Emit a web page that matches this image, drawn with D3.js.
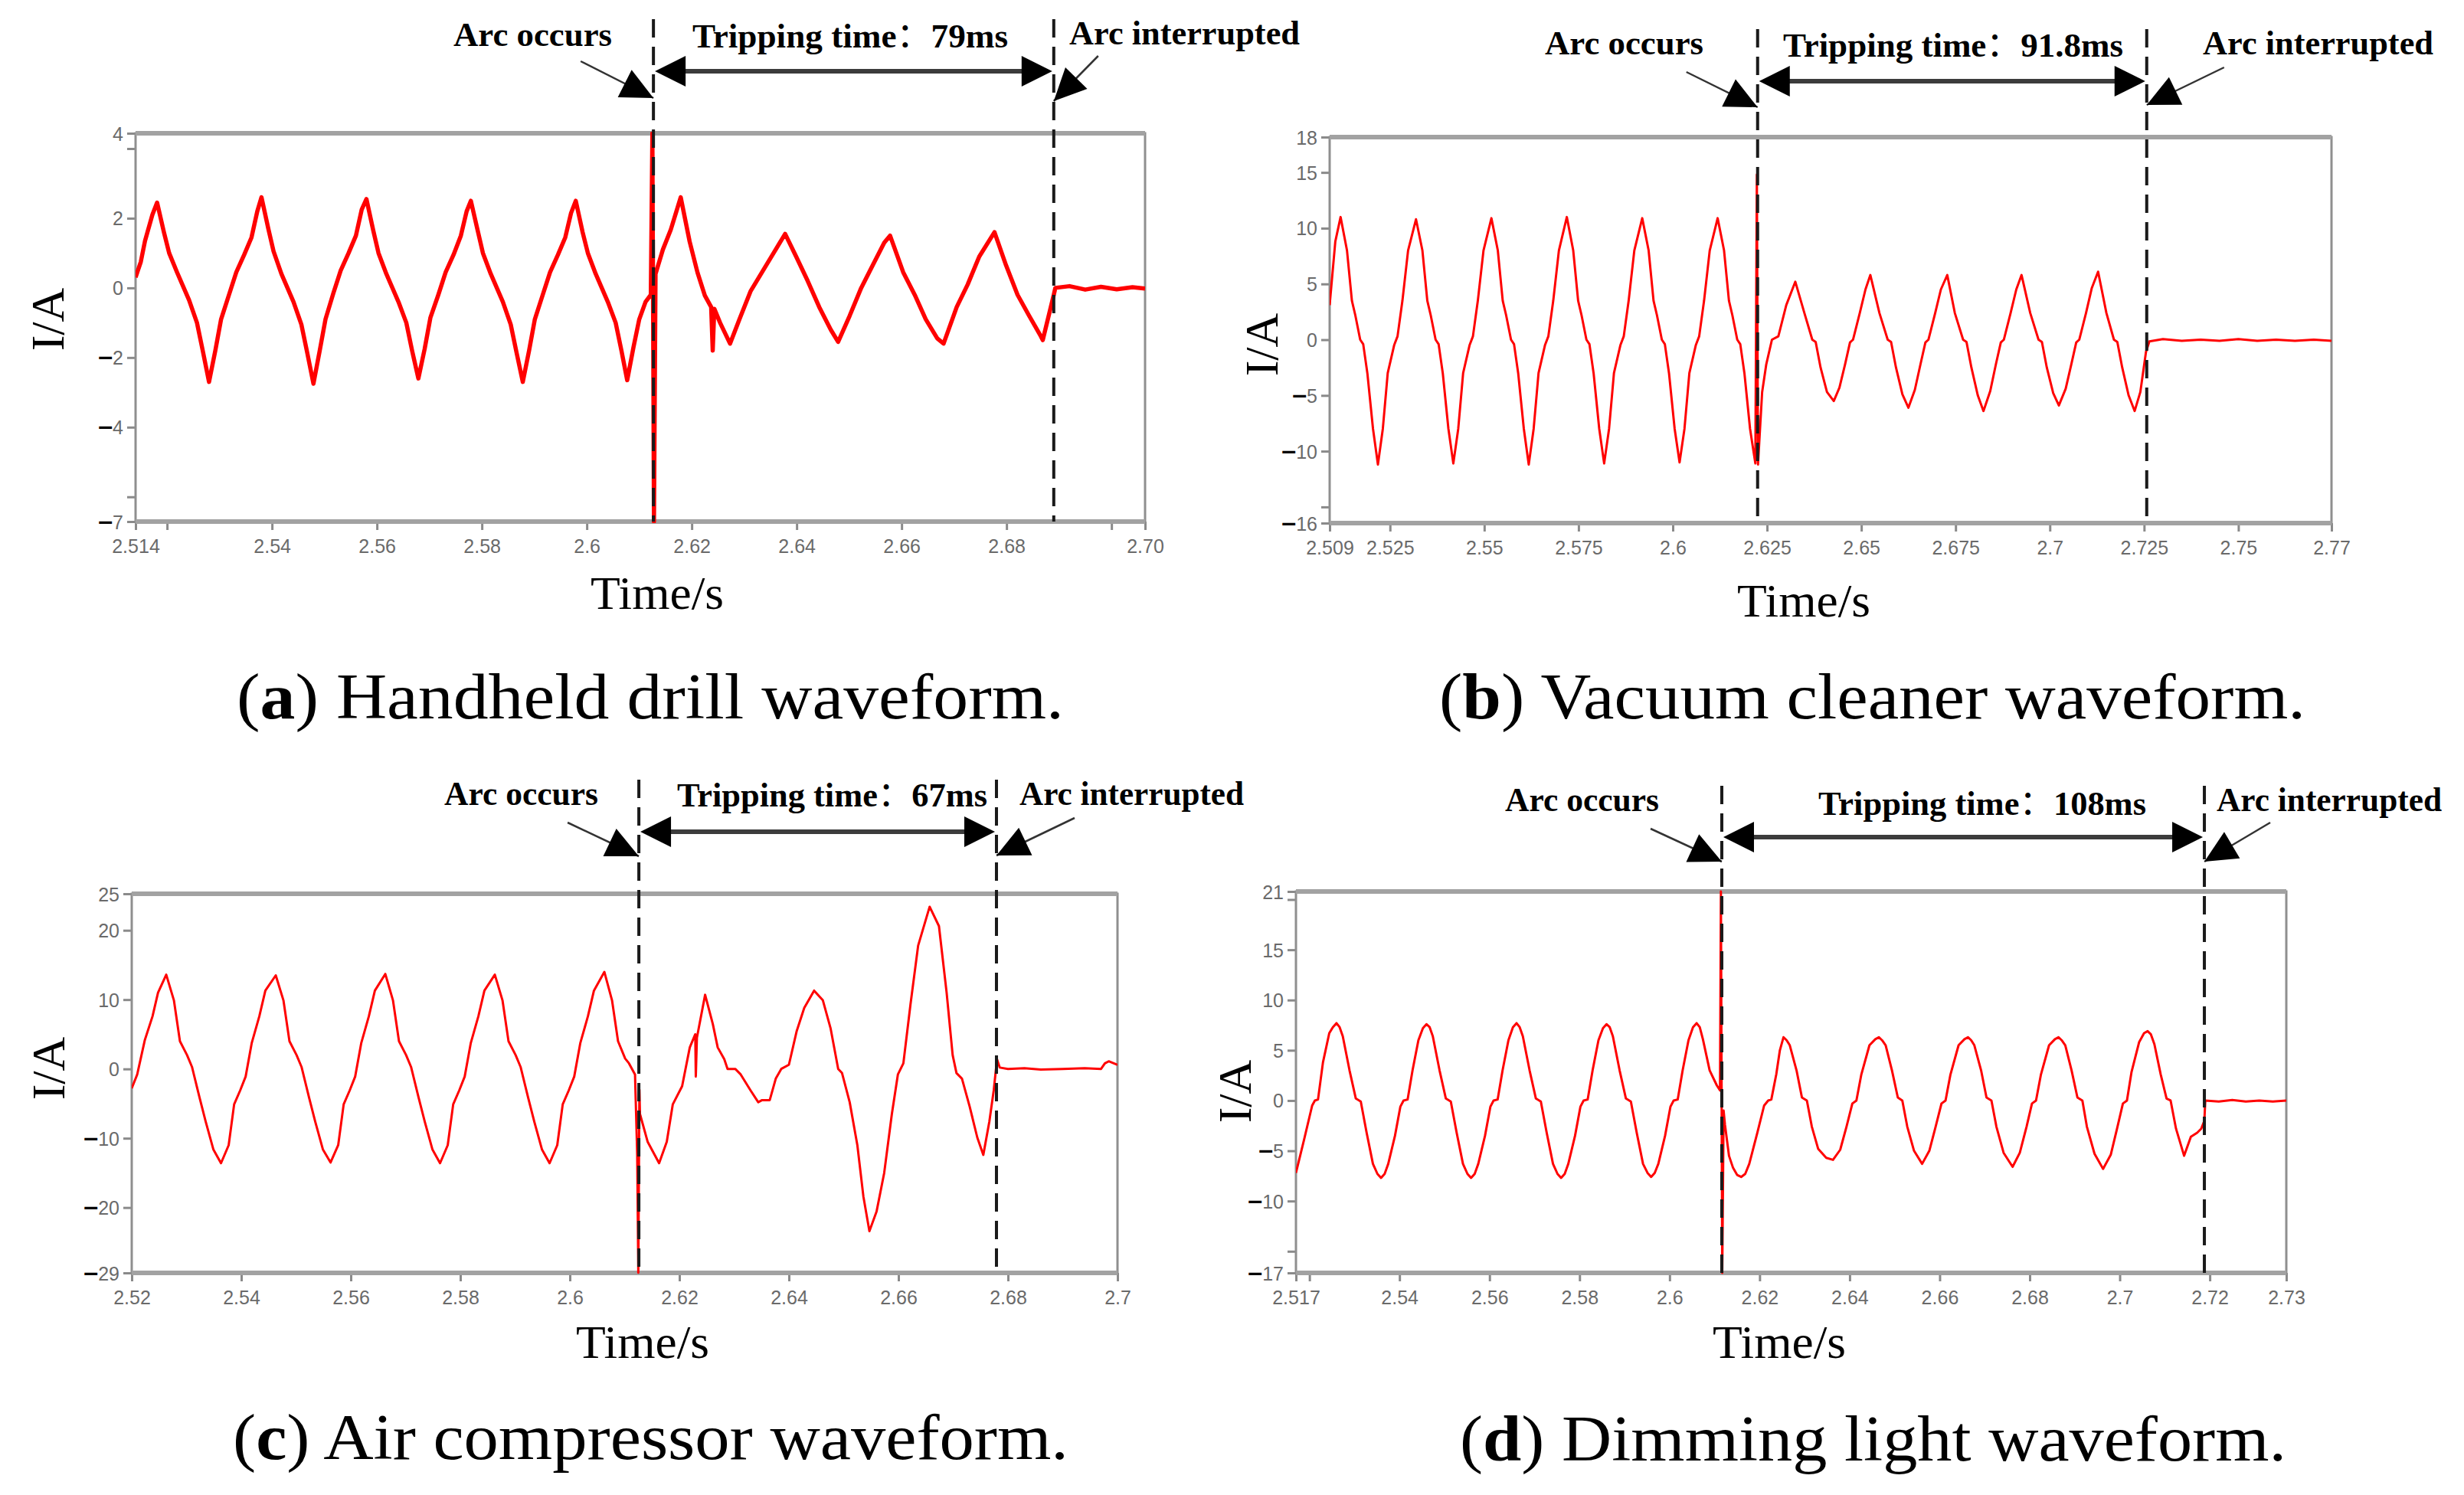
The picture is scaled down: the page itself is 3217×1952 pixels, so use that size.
<!DOCTYPE html>
<html><head><meta charset="utf-8">
<script src="https://cdn.jsdelivr.net/npm/d3@7"></script>
<style>body{margin:0;background:#fff}svg{display:block}</style>
</head><body>
<svg id="c" width="3217" height="1952"></svg>
<script>
// ---------------- DATA ----------------
// (a) Handheld drill
const drillT=[2.5140,2.5150,2.5158,2.5172,2.5181,2.5194,2.5204,2.5219,2.5242,2.5257,2.5268,2.5280,2.5292,2.5303,2.5318,2.5332,2.5347,2.5361,2.5372,2.5380,
2.5393,2.5403,2.5418,2.5441,2.5456,2.5467,2.5479,2.5491,2.5502,2.5517,2.5531,2.5546,2.5560,2.5571,2.5580,
2.5593,2.5603,2.5618,2.5641,2.5656,2.5667,2.5679,2.5691,2.5702,2.5717,2.5731,2.5746,2.5760,2.5771,2.5779,
2.5792,2.5802,2.5817,2.5840,2.5855,2.5866,2.5878,2.5890,2.5901,2.5916,2.5930,2.5945,2.5959,2.5970,2.5979,
2.5992,2.6002,2.6017,2.6040,2.6055,2.6066,2.6077,2.6089,2.6100,2.6112,2.6122,2.6125,2.6128,2.6131,
2.6145,2.6160,2.6179,2.6196,2.6211,2.6225,2.6237,2.6240,2.6243,2.6254,2.6273,2.6291,2.6312,2.6334,2.6356,2.6378,
2.6399,2.6421,2.6443,2.6465,2.6479,2.6501,2.6523,2.6545,2.6567,2.6578,2.6603,2.6625,2.6646,2.6668,2.6680,
2.6705,2.6726,2.6748,2.6777,2.6799,2.6821,2.6843,2.6864,2.6869,2.6890,2.6893,2.6920,2.6950,2.6980,2.7010,2.7040,2.7064];
const drillI=[0.30,0.75,1.35,2.10,2.45,1.60,1.00,0.45,-0.35,-1.00,-1.80,-2.70,-1.80,-0.90,-0.20,0.45,0.95,1.45,2.20,2.60,
1.70,1.05,0.40,-0.40,-1.05,-1.85,-2.75,-1.80,-0.90,-0.15,0.50,1.00,1.50,2.25,2.55,
1.65,1.00,0.40,-0.40,-1.00,-1.80,-2.60,-1.75,-0.85,-0.20,0.45,0.95,1.50,2.20,2.50,
1.65,1.00,0.40,-0.40,-1.05,-1.85,-2.70,-1.80,-0.90,-0.20,0.45,0.95,1.45,2.15,2.50,
1.60,1.00,0.40,-0.40,-1.00,-1.80,-2.65,-1.70,-0.90,-0.40,-0.20,4.44,-6.71,0.40,
1.10,1.67,2.60,1.33,0.44,-0.22,-0.55,-1.80,-0.60,-1.00,-1.60,-0.90,-0.10,0.45,1.00,1.55,
0.90,0.20,-0.55,-1.20,-1.55,-0.80,0.00,0.65,1.30,1.50,0.45,-0.20,-0.90,-1.45,-1.60,
-0.55,0.10,0.90,1.60,0.65,-0.20,-0.80,-1.35,-1.50,-0.20,0.00,0.05,-0.05,0.03,-0.04,0.02,-0.02];
const drillXTicks=[2.514,2.52,2.54,2.56,2.58,2.6,2.62,2.64,2.66,2.68,2.70,2.7064];
const drillXLabels=["2.514","","2.54","2.56","2.58","2.6","2.62","2.64","2.66","2.68","","2.70"];
const drillYTicks=[4.44,4,2,0,-2,-4,-6,-6.71];
const drillYLabels=["4","","2","0","-2","-4","","-7"];
const drillEvents=[2.6127,2.6890];
const drillTrip="Tripping time：79ms";

// (b) Vacuum cleaner
const vacuumT=[2.5090,2.5105,2.5119,2.5136,2.5149,2.5158,2.5171,2.5179,2.5190,2.5205,2.5218,2.5231,2.5244,2.5261,2.5270,2.5283,2.5298,
2.5319,2.5336,2.5349,2.5358,2.5371,2.5379,2.5390,2.5405,2.5418,2.5431,2.5444,2.5461,2.5470,2.5483,2.5498,
2.5519,2.5536,2.5549,2.5558,2.5571,2.5579,2.5590,2.5605,2.5618,2.5631,2.5644,2.5661,2.5670,2.5683,2.5698,
2.5719,2.5736,2.5749,2.5758,2.5771,2.5779,2.5790,2.5805,2.5818,2.5831,2.5844,2.5861,2.5870,2.5883,2.5898,
2.5919,2.5936,2.5949,2.5958,2.5971,2.5979,2.5990,2.6005,2.6018,2.6031,2.6044,2.6061,2.6070,2.6083,2.6098,
2.6119,2.6136,2.6149,2.6158,2.6171,2.6179,2.6190,2.6205,2.6219,2.6223,2.6226,2.6237,2.6248,2.6263,2.6280,2.6301,
2.6325,2.6349,2.6370,2.6379,2.6392,2.6409,2.6427,2.6442,2.6457,2.6470,2.6478,2.6496,2.6511,
2.6524,2.6548,2.6570,2.6579,2.6592,2.6609,2.6625,2.6642,2.6657,2.6670,2.6678,2.6696,2.6711,
2.6728,2.6748,2.6770,2.6779,2.6792,2.6809,2.6824,2.6842,2.6857,2.6870,2.6878,2.6896,2.6911,
2.6925,2.6948,2.6970,2.6979,2.6992,2.7009,2.7024,2.7042,2.7057,2.7070,2.7078,2.7096,2.7111,
2.7128,2.7150,2.7170,2.7179,2.7192,2.7209,2.7225,2.7240,2.7255,2.7264,
2.7300,2.7350,2.7400,2.7450,2.7500,2.7550,2.7600,2.7650,2.7700,2.7747];
const vacuumI=[3.1,8.8,11.0,8.0,3.5,2.2,0.0,-0.4,-3.0,-8.0,-11.2,-8.0,-3.0,-0.5,0.3,3.5,8.0,
10.8,8.0,3.5,2.2,0.0,-0.4,-3.0,-8.0,-11.1,-8.0,-3.0,-0.5,0.3,3.5,8.0,
10.9,8.0,3.5,2.2,0.0,-0.4,-3.0,-8.0,-11.2,-8.0,-3.0,-0.5,0.3,3.5,8.0,
11.0,8.0,3.5,2.2,0.0,-0.4,-3.0,-8.0,-11.1,-8.0,-3.0,-0.5,0.3,3.5,8.0,
10.9,8.0,3.5,2.2,0.0,-0.4,-3.0,-8.0,-11.0,-8.0,-3.0,-0.5,0.3,3.5,8.0,
10.9,8.0,3.5,2.2,0.0,-0.4,-3.0,-8.0,-11.1,14.8,-11.2,-4.7,-2.2,0.0,0.3,3.1,
5.2,2.4,0.0,-0.2,-2.5,-4.7,-5.5,-4.3,-2.2,-0.25,0.0,2.4,4.5,
5.8,2.4,0.0,-0.2,-2.5,-4.9,-6.1,-4.5,-2.2,-0.25,0.0,2.4,4.5,
5.8,2.4,0.0,-0.2,-2.5,-5.0,-6.4,-4.6,-2.2,-0.25,0.0,2.4,4.5,
5.8,2.4,0.0,-0.2,-2.5,-4.8,-5.9,-4.4,-2.2,-0.25,0.0,2.4,4.6,
6.1,2.4,0.0,-0.2,-2.5,-5.0,-6.4,-4.7,-1.1,-0.15,
0.05,-0.1,0.0,-0.1,0.05,-0.1,0.0,-0.1,0.0,-0.1];
const vacuumXTicks=[2.509,2.525,2.55,2.575,2.6,2.625,2.65,2.675,2.7,2.725,2.75,2.7747];
const vacuumXLabels=["2.509","2.525","2.55","2.575","2.6","2.625","2.65","2.675","2.7","2.725","2.75","2.77"];
const vacuumYTicks=[18.17,15,10,5,0,-5,-10,-15,-16.45];
const vacuumYLabels=["18","15","10","5","0","-5","-10","","-16"];
const vacuumEvents=[2.6225,2.7257];
const vacuumTrip="Tripping time：91.8ms";

// (c) Air compressor
const compT=[2.5200,2.5210,2.5224,2.5238,2.5248,2.5263,2.5277,2.5288,2.5301,2.5310,2.5324,2.5335,2.5349,2.5363,2.5377,2.5387,2.5398,2.5408,2.5419,2.5433,2.5444,
2.5463,2.5477,2.5488,2.5501,2.5510,2.5524,2.5535,2.5549,2.5563,2.5577,2.5587,2.5598,2.5608,2.5619,2.5633,2.5644,
2.5663,2.5677,2.5688,2.5701,2.5710,2.5724,2.5735,2.5749,2.5763,2.5777,2.5787,2.5798,2.5808,2.5819,2.5833,2.5844,
2.5863,2.5877,2.5888,2.5901,2.5910,2.5924,2.5935,2.5949,2.5963,2.5977,2.5987,2.5998,2.6008,2.6019,2.6033,2.6044,
2.6063,2.6077,2.6088,2.6101,2.6108,2.6119,2.6123,2.6125,2.6127,2.6128,2.6142,2.6163,2.6177,2.6188,2.6205,2.6219,
2.6229,2.6230,2.6232,2.6247,2.6261,2.6270,2.6282,2.6288,2.6302,2.6312,2.6330,2.6344,2.6351,2.6365,2.6376,2.6386,
2.6400,2.6414,2.6428,2.6446,2.6462,2.6476,2.6490,2.6497,2.6511,2.6525,2.6536,2.6547,2.6560,2.6574,2.6588,2.6599,
2.6609,2.6622,2.6636,2.6657,2.6674,2.6688,2.6699,2.6706,2.6716,2.6730,2.6744,2.6755,2.6766,2.6774,2.6780,2.6785,
2.6800,2.6830,2.6860,2.6900,2.6940,2.6970,2.6977,2.6984,2.7000];
const compI=[-2.8,-0.8,4.2,7.6,11.0,13.6,9.9,4.0,2.0,0.3,-4.2,-7.6,-11.6,-13.6,-11.0,-5.1,-3.1,-1.1,3.7,7.6,11.3,
13.5,9.9,4.0,2.0,0.3,-4.2,-7.6,-11.6,-13.5,-11.0,-5.1,-3.1,-1.1,3.7,7.6,11.3,
13.7,9.9,4.0,2.0,0.3,-4.2,-7.6,-11.6,-13.6,-11.0,-5.1,-3.1,-1.1,3.7,7.6,11.3,
13.6,9.9,4.0,2.0,0.3,-4.2,-7.6,-11.6,-13.6,-11.0,-5.1,-3.1,-1.1,3.7,7.6,11.3,
14.0,9.9,4.0,1.5,0.8,-0.8,-12.4,-29.4,-3.0,-6.5,-10.5,-13.6,-10.5,-5.1,-2.5,3.1,
5.0,-1.1,4.5,10.7,6.5,3.1,1.4,0.0,0.0,-0.8,-3.1,-4.8,-4.5,-4.5,-1.4,0.0,
0.6,5.4,8.8,11.3,9.9,5.9,0.0,-0.6,-4.8,-11.0,-18.4,-23.4,-20.6,-15.0,-6.5,-0.8,
0.8,9.3,17.8,23.4,20.6,11.0,2.0,-0.6,-1.4,-5.4,-9.9,-12.4,-7.6,-3.1,1.4,0.2,
0.0,0.1,-0.1,0.0,0.1,0.0,0.8,1.1,0.6];
const compXTicks=[2.52,2.54,2.56,2.58,2.6,2.62,2.64,2.66,2.68,2.7];
const compXLabels=["2.52","2.54","2.56","2.58","2.6","2.62","2.64","2.66","2.68","2.7"];
const compYTicks=[25.27,20,10,0,-10,-20,-29.43];
const compYLabels=["25","20","10","0","-10","-20","-29"];
const compEvents=[2.6126,2.6779];
const compTrip="Tripping time：67ms";

// (d) Dimming light
const dimT=[2.5170,2.5188,2.5206,2.5212,2.5219,2.5230,2.5244,2.5252,
2.5260,2.5267,2.5274,2.5289,2.5303,2.5314,2.5327,2.5341,2.5351,2.5359,2.5367,2.5375,2.5390,2.5402,2.5409,2.5418,2.5429,2.5442,2.5452,
2.5460,2.5467,2.5474,2.5489,2.5503,2.5514,2.5527,2.5541,2.5551,2.5559,2.5567,2.5575,2.5590,2.5602,2.5609,2.5618,2.5629,2.5642,2.5652,
2.5660,2.5667,2.5674,2.5689,2.5703,2.5714,2.5727,2.5741,2.5751,2.5759,2.5767,2.5775,2.5790,2.5802,2.5809,2.5818,2.5829,2.5842,2.5852,
2.5860,2.5867,2.5874,2.5889,2.5903,2.5914,2.5927,2.5941,2.5951,2.5959,2.5967,2.5975,2.5990,2.6002,2.6009,2.6018,2.6029,2.6042,2.6052,
2.6060,2.6067,2.6074,2.6089,2.6105,2.6112,2.6114,2.6117,2.6120,2.6123,2.6132,2.6141,2.6150,2.6159,2.6168,2.6177,2.6195,2.6210,2.6219,2.6226,2.6237,2.6245,
2.6253,2.6260,2.6267,2.6282,2.6294,2.6305,2.6316,2.6330,2.6348,2.6363,2.6379,2.6393,2.6406,2.6415,2.6426,2.6444,2.6457,
2.6465,2.6472,2.6480,2.6494,2.6507,2.6517,2.6528,2.6543,2.6561,2.6577,2.6591,2.6604,2.6613,2.6624,2.6642,2.6655,
2.6663,2.6670,2.6677,2.6692,2.6704,2.6715,2.6726,2.6742,2.6762,2.6778,2.6793,2.6805,2.6814,2.6825,2.6843,2.6856,
2.6864,2.6871,2.6879,2.6893,2.6906,2.6917,2.6927,2.6944,2.6963,2.6980,2.6994,2.7007,2.7016,2.7026,2.7043,2.7054,
2.7062,2.7069,2.7077,2.7091,2.7104,2.7113,2.7125,2.7143,2.7158,2.7172,2.7181,2.7188,2.7190,
2.7220,2.7250,2.7280,2.7310,2.7340,2.7370];
const dimI=[-7.2,-3.9,-0.5,0.0,0.1,3.8,6.7,7.3,
7.7,7.3,6.4,3.0,0.2,-0.1,-3.2,-6.3,-7.3,-7.7,-7.3,-6.3,-3.5,-0.6,0.0,0.1,3.0,6.0,7.2,
7.6,7.3,6.4,3.0,0.2,-0.1,-3.2,-6.3,-7.3,-7.7,-7.3,-6.3,-3.5,-0.6,0.0,0.1,3.0,6.0,7.3,
7.7,7.3,6.4,3.0,0.2,-0.1,-3.2,-6.3,-7.3,-7.7,-7.3,-6.3,-3.5,-0.6,0.0,0.1,3.0,6.0,7.2,
7.6,7.3,6.4,3.0,0.2,-0.1,-3.2,-6.3,-7.2,-7.6,-7.2,-6.3,-3.5,-0.6,0.0,0.1,3.0,6.0,7.3,
7.7,7.3,6.1,3.0,1.5,1.0,20.8,-17.15,-1.0,-2.4,-5.5,-6.7,-7.4,-7.6,-7.3,-6.3,-3.2,-0.5,0.0,0.1,2.6,5.0,
6.3,6.0,5.5,3.0,0.3,0.0,-2.6,-4.8,-5.7,-5.9,-4.9,-2.6,-0.3,0.0,2.6,5.5,6.1,
6.3,6.0,5.5,3.0,0.3,0.0,-2.6,-5.0,-6.3,-5.0,-2.6,-0.3,0.0,2.6,5.5,6.1,
6.3,6.0,5.5,3.0,0.3,0.0,-2.6,-5.2,-6.6,-5.2,-2.6,-0.3,0.0,2.6,5.5,6.1,
6.3,6.0,5.5,3.0,0.3,0.0,-2.6,-5.3,-6.8,-5.4,-2.8,-0.3,0.0,2.8,5.8,6.7,
6.9,6.6,5.6,2.6,0.2,0.0,-2.8,-5.5,-3.6,-3.2,-2.8,-2.0,0.0,
-0.1,0.05,-0.1,0.0,-0.1,0.0];
const dimXTicks=[2.517,2.52,2.54,2.56,2.58,2.6,2.62,2.64,2.66,2.68,2.7,2.72,2.737];
const dimXLabels=["2.517","","2.54","2.56","2.58","2.6","2.62","2.64","2.66","2.68","2.7","2.72","2.73"];
const dimYTicks=[20.8,20,15,10,5,0,-5,-10,-15,-17.15];
const dimYLabels=["21","","15","10","5","0","-5","-10","","-17"];
const dimEvents=[2.6116,2.7188];
const dimTrip="Tripping time：108ms";

const captionLetters=["a","b","c","d"];
const captionTexts=[" Handheld drill waveform."," Vacuum cleaner waveform."," Air compressor waveform."," Dimming light waveform."];
const arcLabel="Arc occurs", intLabel="Arc interrupted", xTitle="Time/s", yTitle="I/A";

// ---------------- LAYOUT ----------------
const panels=[
 {t:drillT,v:drillI,xd:[2.514,2.7064],yd:[-6.71,4.44],xt:drillXTicks,xl:drillXLabels,yt:drillYTicks,yl:drillYLabels,ev:drillEvents,trip:drillTrip,
  L:{x0:177,x1:1495,y0:174,y1:681,lw:5.5,dashTop:25,arrY:93,
     arc:{x:592,w:207,y:60},tr:{x:904,w:412,y:62},it:{x:1396,w:301,y:58},
     pa:[-95,80,0,128],pi:[58,73,0,132],
     yl:[61,417],xl:[858,795],cap:{x:309,w:1080,y:938}}},
 {t:vacuumT,v:vacuumI,xd:[2.509,2.7747],yd:[-16.45,18.17],xt:vacuumXTicks,xl:vacuumXLabels,yt:vacuumYTicks,yl:vacuumYLabels,ev:vacuumEvents,trip:vacuumTrip,
  L:{x0:1736,x1:3044,y0:179,y1:683,lw:3,dashTop:38,arrY:106,
     arc:{x:2017,w:207,y:71},tr:{x:2328,w:444,y:74},it:{x:2876,w:301,y:71},
     pa:[-93,94,0,140],pi:[101,88,0,137],
     yl:[1646,450],xl:[2355,805],cap:{x:1879,w:1131,y:938}}},
 {t:compT,v:compI,xd:[2.52,2.70],yd:[-29.43,25.27],xt:compXTicks,xl:compXLabels,yt:compYTicks,yl:compYLabels,ev:compEvents,trip:compTrip,
  L:{x0:172,x1:1459,y0:1167,y1:1662,lw:3,dashTop:1018,arrY:1086,
     arc:{x:580,w:201,y:1051},tr:{x:884,w:405,y:1053},it:{x:1331,w:293,y:1051},
     pa:[-93,1074,0,1118],pi:[102,1068,0,1117],
     yl:[62,1395],xl:[839,1773],cap:{x:304,w:1091,y:1905}}},
 {t:dimT,v:dimI,xd:[2.517,2.737],yd:[-17.15,20.8],xt:dimXTicks,xl:dimXLabels,yt:dimYTicks,yl:dimYLabels,ev:dimEvents,trip:dimTrip,
  L:{x0:1692,x1:2985,y0:1164,y1:1662,lw:3,dashTop:1026,arrY:1093,
     arc:{x:1965,w:201,y:1059},tr:{x:2374,w:428,y:1064},it:{x:2894,w:294,y:1059},
     pa:[-93,1082,0,1125],pi:[86,1074,0,1125],
     yl:[1611,1425],xl:[2323,1773],cap:{x:1906,w:1079,y:1907}}}
];

const svg=d3.select("#c");
const SERIF="'Liberation Serif','Times New Roman',serif";
const SANS="'Liberation Sans',Arial,sans-serif";

function arrowHead(g,tx,ty,fx,fy,len,hw){
  const dx=tx-fx,dy=ty-fy,d=Math.hypot(dx,dy),ux=dx/d,uy=dy/d;
  const bx=tx-len*ux,by=ty-len*uy,nx=-uy,ny=ux;
  g.append("path").attr("d",`M${tx},${ty}L${bx+hw*nx},${by+hw*ny}L${bx-hw*nx},${by-hw*ny}Z`).attr("fill","#000");
}

panels.forEach((p,i)=>{
  const L=p.L;
  const x=d3.scaleLinear().domain(p.xd).range([L.x0,L.x1]);
  const y=d3.scaleLinear().domain(p.yd).range([L.y1,L.y0]);
  const g=svg.append("g");
  const cid="clip"+i;
  svg.append("defs").append("clipPath").attr("id",cid).append("rect")
    .attr("x",L.x0).attr("y",L.y0-2).attr("width",L.x1-L.x0).attr("height",L.y1-L.y0+4);

  const xAxis=d3.axisBottom(x).tickValues(p.xt).tickSize(11).tickFormat("");
  const gx=g.append("g").attr("transform",`translate(0,${L.y1})`).call(xAxis);
  gx.select(".domain").remove();
  gx.selectAll(".tick line").attr("stroke","#8a8a8a").attr("stroke-width",3);
  gx.selectAll(".tick").append("text").attr("y",41).attr("fill","#6a6a6a")
    .attr("font-family",SANS).attr("font-size",25).attr("text-anchor","middle")
    .text((d,k)=>p.xl[k]);

  const yAxis=d3.axisLeft(y).tickValues(p.yt).tickSize(11).tickFormat("");
  const gy=g.append("g").attr("transform",`translate(${L.x0},0)`).call(yAxis);
  gy.select(".domain").remove();
  gy.selectAll(".tick line").attr("stroke","#8a8a8a").attr("stroke-width",3);
  gy.selectAll(".tick").each(function(d,k){
    const lab=p.yl[k]; if(!lab) return;
    const t=d3.select(this).append("text").attr("x",-16).attr("y",9)
      .attr("font-family",SANS).attr("font-size",25).attr("text-anchor","end");
    if(lab[0]==="-"){
      t.append("tspan").attr("fill","#000").attr("font-size",34).attr("font-weight","bold").text("–");
      t.append("tspan").attr("fill","#6a6a6a").text(lab.slice(1));
    } else t.append("tspan").attr("fill","#6a6a6a").text(lab);
  });

  g.append("rect").attr("x",L.x0).attr("y",L.y0).attr("width",L.x1-L.x0).attr("height",L.y1-L.y0)
    .attr("fill","none").attr("stroke","#8f8f8f").attr("stroke-width",3);
  [L.y0,L.y1].forEach(yy=>g.append("line").attr("x1",L.x0).attr("x2",L.x1).attr("y1",yy).attr("y2",yy)
    .attr("stroke","#a2a2a2").attr("stroke-width",6));

  const pts=p.t.map((tt,k)=>[tt,p.v[k]]);
  g.append("path").datum(pts).attr("clip-path",`url(#${cid})`)
    .attr("d",d3.line().x(d=>x(d[0])).y(d=>y(d[1])))
    .attr("fill","none").attr("stroke","#ff0000").attr("stroke-width",L.lw).attr("stroke-linejoin","round");

  const ax=x(p.ev[0]), ix=x(p.ev[1]);
  [ax,ix].forEach(xx=>g.append("line").attr("x1",xx).attr("x2",xx).attr("y1",L.dashTop).attr("y2",L.y1)
    .attr("stroke","#1a1a1a").attr("stroke-width",4).attr("stroke-dasharray","24,12"));

  g.append("line").attr("x1",ax+30).attr("x2",ix-30).attr("y1",L.arrY).attr("y2",L.arrY)
    .attr("stroke","#3c3c3c").attr("stroke-width",6);
  arrowHead(g,ax+2,L.arrY,ax+100,L.arrY,40,20);
  arrowHead(g,ix-2,L.arrY,ix-100,L.arrY,40,20);

  const pa=L.pa, pi=L.pi;
  const a0=[ax+pa[0],pa[1]], a1=[ax+pa[2],pa[3]];
  const i0=[ix+pi[0],pi[1]], i1=[ix+pi[2],pi[3]];
  [[a0,a1],[i0,i1]].forEach(([s,e])=>{
    g.append("line").attr("x1",s[0]).attr("y1",s[1]).attr("x2",e[0]).attr("y2",e[1])
      .attr("stroke","#333").attr("stroke-width",2.5);
    arrowHead(g,e[0],e[1],s[0],s[1],42,20);
  });

  const ann=(o)=>g.append("text").attr("x",o.x).attr("y",o.y).attr("font-family",SERIF)
    .attr("font-weight","bold").attr("font-size",45).attr("fill","#000")
    .attr("textLength",o.w).attr("lengthAdjust","spacingAndGlyphs");
  ann(L.arc).text(arcLabel);
  ann(L.it).text(intLabel);
  const tr=ann(L.tr), parts=p.trip.split("：");
  tr.append("tspan").text(parts[0]);
  tr.append("tspan").attr("font-family","'Noto Sans CJK SC'").attr("font-weight","normal").text("：");
  tr.append("tspan").text(parts[1]);

  g.append("text").attr("transform",`translate(${L.yl[0]},${L.yl[1]}) rotate(-90)`)
    .attr("text-anchor","middle").attr("dy","0.35em").attr("font-family",SERIF).attr("font-size",62).attr("fill","#000").text(yTitle);
  g.append("text").attr("x",L.xl[0]).attr("y",L.xl[1]).attr("text-anchor","middle")
    .attr("font-family",SERIF).attr("font-size",62).attr("fill","#000")
    .attr("textLength",174).attr("lengthAdjust","spacingAndGlyphs").text(xTitle);

  const c=g.append("text").attr("x",L.cap.x).attr("y",L.cap.y).attr("font-family",SERIF).attr("font-size",84)
    .attr("fill","#000").attr("textLength",L.cap.w).attr("lengthAdjust","spacingAndGlyphs");
  c.append("tspan").text("(");
  c.append("tspan").attr("font-weight","bold").text(captionLetters[i]);
  c.append("tspan").text(")"+captionTexts[i]);
});
</script>
</body></html>
